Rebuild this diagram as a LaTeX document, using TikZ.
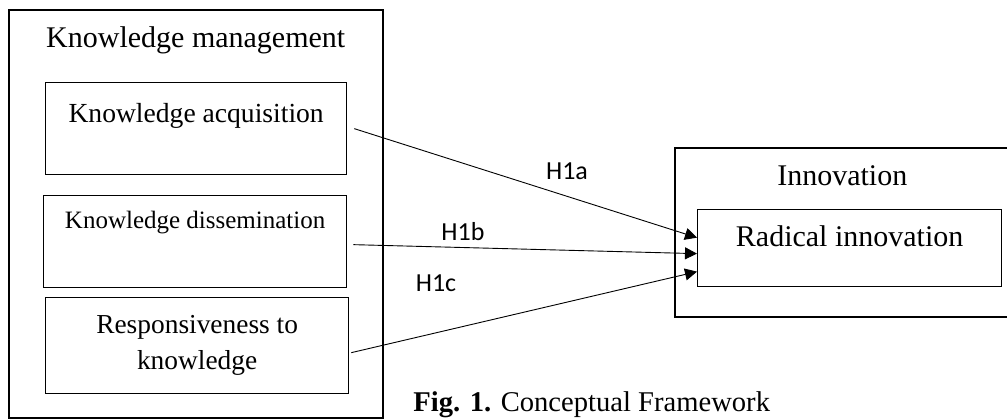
\documentclass[tikz,border=0pt]{standalone}
\usepackage{fontspec}
\setmainfont{Liberation Serif}
\newfontfamily\hypfont{Carlito}
\usepackage{tikz}
\usetikzlibrary{arrows.meta}
\tikzstyle{group}=[draw, line width=0.75pt, inner sep=0pt, anchor=north west]
\tikzstyle{factor}=[draw, line width=0.65pt, inner sep=0pt, anchor=north west]
\tikzstyle{hyp}=[font=\hypfont\fontsize{13}{15}\selectfont, inner sep=0pt]
\tikzstyle{link}=[line width=0.45pt, -{Triangle[length=6pt, width=6pt]}]

\begin{document}
\begin{tikzpicture}[x=0.5pt, y=-0.5pt]
        \useasboundingbox (0, 0) rectangle (1007, 418);
        % left group and its three factors
        \node[group, minimum width=187pt, text height=19pt, text depth=185pt,
              font=\fontsize{15}{18}\selectfont]          (KM) at (8, 9) {Knowledge management};
        \node[factor, minimum width=150.5pt, text height=20pt, text depth=26pt,
              font=\fontsize{13.8}{16}\selectfont]        (KA) at (45, 82) {Knowledge acquisition};
        \node[factor, minimum width=151.5pt, text height=16.5pt, text depth=29.5pt,
              font=\fontsize{12.5}{15}\selectfont]        (KD) at (43, 195) {Knowledge dissemination};
        \node[factor, minimum width=151.5pt, minimum height=48pt, align=center,
              font=\fontsize{13.7}{18}\selectfont]        (RK) at (45, 297) {Responsiveness to\\knowledge};
        % right group
        \node[group, minimum width=167.5pt, text height=19pt, text depth=65.5pt,
              font=\fontsize{15}{18}\selectfont]          (IN) at (674, 147) {Innovation};
        \node[factor, minimum width=152pt, text height=18.5pt, text depth=20pt,
              font=\fontsize{15}{18}\selectfont]          (RI) at (697, 209) {Radical innovation};
        % hypotheses
        \node[hyp] (H1a) at (567, 171) {H1a};
        \node[hyp] (H1b) at (463, 232) {H1b};
        \node[hyp] (H1c) at (436, 283) {H1c};
        \draw[link] ([xshift=3.5pt]KA.east) -- ([yshift=5.25pt]RI.west);
        \draw[link] ([xshift=3pt, yshift=-1.5pt]KD.east) -- ([yshift=-2.75pt]RI.west);
        \draw[link] ([xshift=1pt, yshift=-3.5pt]RK.east) -- ([yshift=-11.75pt]RI.west);
        % caption
        \node[anchor=base west, inner sep=0pt, font=\fontsize{14.3}{17}\selectfont]
              (cap) at (413, 411) {\textbf{Fig. 1.} Conceptual Framework};
    \end{tikzpicture}
\end{document}
